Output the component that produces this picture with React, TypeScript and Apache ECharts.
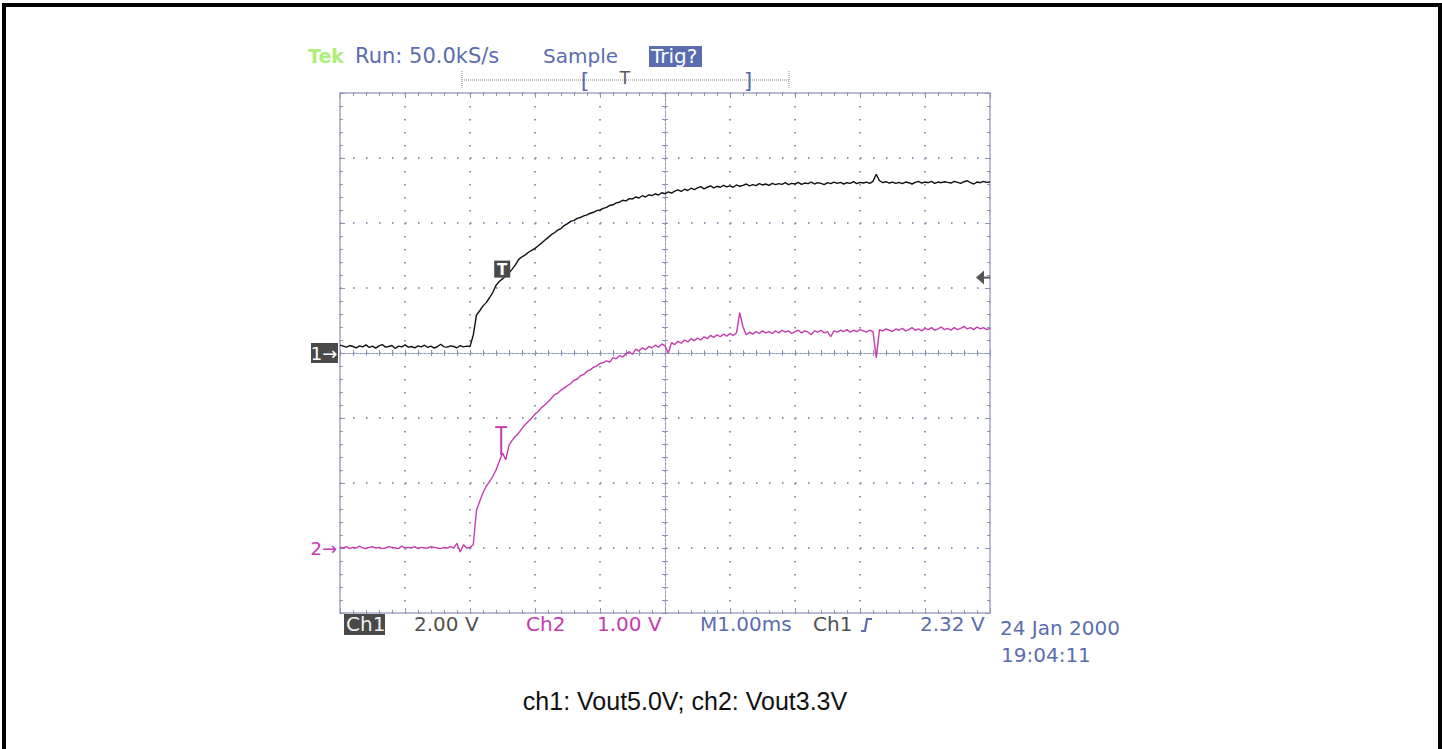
import React, { useEffect, useRef } from "react";
import * as echarts from "echarts";

// Oscilloscope capture: 10 divisions x 1.00 ms, sampled every 0.05 ms
const SAMPLE_MS = 0.05;
const TIME_DIVS = 10;
const V_DIVS = 8;
const CH1_V_PER_DIV = 2.0;
const CH2_V_PER_DIV = 1.0;
const CH2_GROUND_DIV = -3; // ch2 ground marker position (divisions from centre)
const TRIGGER_LEVEL_V = 2.32;
const TRIGGER_T_MS = 2.48;

// Ch1 (Vout 5.0V), volts
const ch1Volts = [
  0.24, 0.21, 0.18, 0.23, 0.2, 0.16, 0.22, 0.19, 0.25, 0.17,
  0.21, 0.15, 0.22, 0.26, 0.18, 0.2, 0.23, 0.14, 0.21, 0.19,
  0.25, 0.18, 0.2, 0.16, 0.22, 0.19, 0.24, 0.17, 0.21, 0.15,
  0.2, 0.27, 0.19, 0.18, 0.22, 0.2, 0.16, 0.23, 0.19, 0.21,
  0.2, 0.55, 1.17, 1.3, 1.45, 1.55, 1.7, 1.86, 2.08, 2.2,
  2.28, 2.38, 2.47, 2.58, 2.72, 2.88, 2.96, 3.02, 3.1, 3.16,
  3.22, 3.3, 3.38, 3.47, 3.55, 3.64, 3.7, 3.78, 3.83, 3.92,
  3.98, 4.05, 4.08, 4.14, 4.17, 4.22, 4.25, 4.3, 4.33, 4.38,
  4.4, 4.45, 4.48, 4.54, 4.56, 4.62, 4.64, 4.7, 4.68, 4.75,
  4.74, 4.8, 4.77, 4.84, 4.8, 4.87, 4.84, 4.9, 4.86, 4.93,
  4.9, 4.96, 4.92, 4.98, 5.02, 4.97, 5.04, 5.0, 5.07, 5.03,
  5.08, 5.12, 5.05, 5.1, 5.14, 5.08, 5.13, 5.1, 5.16, 5.11,
  5.14, 5.1, 5.17, 5.13, 5.16, 5.2, 5.14, 5.18, 5.15, 5.21,
  5.17, 5.2, 5.16, 5.22, 5.18, 5.21, 5.19, 5.24, 5.18, 5.22,
  5.2, 5.25, 5.19, 5.23, 5.21, 5.26, 5.2, 5.24, 5.22, 5.18,
  5.24, 5.21, 5.26, 5.22, 5.25, 5.2, 5.24, 5.22, 5.27, 5.21,
  5.25, 5.23, 5.26, 5.22, 5.28, 5.5, 5.3, 5.24, 5.27, 5.23,
  5.26, 5.22, 5.25, 5.21, 5.26, 5.24, 5.2, 5.25, 5.28, 5.23,
  5.26, 5.24, 5.28, 5.22, 5.26, 5.24, 5.27, 5.25, 5.23, 5.28,
  5.25, 5.22, 5.27, 5.3, 5.24, 5.2, 5.26, 5.24, 5.28, 5.25,
  5.26,
];

// Ch2 (Vout 3.3V), volts
const ch2Volts = [
  0.01, 0.0, 0.02, -0.01, 0.01, 0.0, 0.03, 0.0, -0.01, 0.01,
  0.02, 0.0, 0.01, -0.01, 0.0, 0.02, 0.01, 0.0, -0.01, 0.03,
  0.0, 0.01, 0.0, 0.02, -0.01, 0.01, 0.0, 0.0, 0.02, 0.01,
  0.0, -0.01, 0.01, 0.0, 0.02, 0.0, 0.07, -0.06, 0.05, 0.0,
  0.01, 0.05, 0.58, 0.72, 0.85, 0.95, 1.02, 1.1, 1.2, 1.33,
  1.46, 1.36, 1.58, 1.66, 1.72, 1.77, 1.84, 1.9, 1.95, 2.0,
  2.06, 2.1, 2.16, 2.2, 2.25, 2.3, 2.36, 2.38, 2.43, 2.46,
  2.5, 2.53, 2.58, 2.6, 2.65, 2.67, 2.72, 2.74, 2.78, 2.8,
  2.84, 2.85, 2.88, 2.86, 2.93, 2.91, 2.96, 2.94, 2.99, 3.02,
  2.98, 3.06, 3.03, 3.08, 3.05, 3.1, 3.08, 3.12, 3.09, 3.14,
  3.11, 3.0, 3.16, 3.13, 3.18, 3.15, 3.2, 3.17, 3.22, 3.19,
  3.23, 3.2, 3.25, 3.22, 3.27, 3.24, 3.28, 3.25, 3.29, 3.26,
  3.3, 3.27, 3.31, 3.62, 3.4, 3.28, 3.32, 3.29, 3.33, 3.3,
  3.34, 3.31, 3.33, 3.3, 3.34, 3.31, 3.35, 3.32, 3.34, 3.3,
  3.33, 3.35, 3.31, 3.34, 3.32, 3.28, 3.34, 3.32, 3.35, 3.31,
  3.33, 3.25, 3.34, 3.32, 3.35, 3.33, 3.36, 3.32, 3.35, 3.33,
  3.36, 3.34, 3.32, 3.35, 3.33, 2.93, 3.36, 3.34, 3.37, 3.35,
  3.33, 3.37, 3.35, 3.38, 3.34, 3.36, 3.39, 3.35, 3.37, 3.34,
  3.38, 3.36, 3.39, 3.35, 3.37, 3.4, 3.36, 3.38, 3.35, 3.39,
  3.36, 3.38, 3.41, 3.37, 3.39, 3.36, 3.4, 3.37, 3.39, 3.36,
  3.38,
];

// Scope readout texts
const headerTexts = { tek: "Tek", run: "Run: 50.0kS/s", mode: "Sample", trig: "Trig?" };
const footerTexts = {
  ch1: "Ch1", ch1Scale: "2.00 V", ch2: "Ch2", ch2Scale: "1.00 V",
  time: "M1.00ms", trigSrc: "Ch1", trigLevel: "2.32 V",
  date: "24 Jan 2000", clock: "19:04:11",
};
const caption = "ch1: Vout5.0V; ch2: Vout3.3V";

const BLUE = "#5a6db0";
const GRAY = "#505050";
const PINK = "#c43cae";
const GREEN = "#aef07a";
const BOXGRAY = "#4a4a4a";
const GRID = "#8e96b6";
const FRAME = "#a2a8c0";
const SCOPE_FONT = "DejaVu Sans";

const G = { left: 340, top: 93, width: 650, height: 520 };

function frameAxis(pos: string, extra: any = {}) {
  return {
    type: "value",
    position: pos,
    axisLine: { show: true, onZero: false, lineStyle: { color: FRAME, width: 1.5 } },
    axisTick: { show: true, inside: true, length: 5, lineStyle: { color: GRID, width: 1 } },
    minorTick: { show: true, splitNumber: 5, length: 3, lineStyle: { color: GRID, width: 1 } },
    axisLabel: { show: false },
    splitLine: { show: false },
    ...extra,
  };
}

function centreAxis(pos: string, offset: number, inside: boolean) {
  return {
    type: "value",
    position: pos,
    offset,
    axisLine: { show: true, onZero: false, lineStyle: { color: GRID, width: 1, type: [2, 2] } },
    axisTick: { show: true, inside, length: 3, lineStyle: { color: GRID, width: 1 } },
    minorTick: { show: true, splitNumber: 5, length: 3, lineStyle: { color: GRID, width: 1 } },
    axisLabel: { show: false },
    splitLine: { show: false },
  };
}

const dotted = { show: true, lineStyle: { color: GRID, width: 2, type: [1.5, 11.5] } };

export default function App() {
  const ref = useRef<HTMLDivElement>(null);
  useEffect(() => {
    if (!ref.current) return;
    const chart = echarts.init(ref.current, null, { renderer: "svg" });
    const ch1Data = ch1Volts.map((v, i) => [i * SAMPLE_MS, v]);
    const ch2Data = ch2Volts.map((v, i) => [i * SAMPLE_MS, v]);
    const xRange = { min: 0, max: TIME_DIVS, interval: 1 };
    const yRange = { min: -V_DIVS / 2, max: V_DIVS / 2, interval: 1 };
    const option: any = {
      animation: false,
      backgroundColor: "#ffffff",
      grid: { ...G, containLabel: false },
      xAxis: [
        frameAxis("bottom", { ...xRange, splitLine: dotted }),
        frameAxis("top", { ...xRange }),
        { ...centreAxis("bottom", -G.height / 2, true), ...xRange },
        { ...centreAxis("bottom", -G.height / 2, false), ...xRange },
      ],
      yAxis: [
        frameAxis("left", { ...yRange, splitLine: dotted }),
        frameAxis("right", { ...yRange }),
        { ...centreAxis("left", -G.width / 2, true), ...yRange },
        { ...centreAxis("left", -G.width / 2, false), ...yRange },
        { type: "value", show: false, min: (-V_DIVS / 2) * CH1_V_PER_DIV, max: (V_DIVS / 2) * CH1_V_PER_DIV },
        {
          type: "value", show: false,
          min: (-V_DIVS / 2 - CH2_GROUND_DIV) * CH2_V_PER_DIV,
          max: (V_DIVS / 2 - CH2_GROUND_DIV) * CH2_V_PER_DIV,
        },
      ],
      series: [
        {
          type: "line", name: "Ch1", xAxisIndex: 0, yAxisIndex: 4, data: ch1Data,
          showSymbol: false, symbol: "none", lineStyle: { color: "#111111", width: 1.4 },
          z: 5,
        },
        {
          type: "line", name: "Ch2", xAxisIndex: 0, yAxisIndex: 5, data: ch2Data,
          showSymbol: false, symbol: "none", lineStyle: { color: PINK, width: 1.4 },
          z: 5,
        },
      ],
    };
    chart.setOption(option);

    const p1g = chart.convertToPixel({ seriesIndex: 0 }, [0, 0]) as number[];
    const p2g = chart.convertToPixel({ seriesIndex: 1 }, [0, 0]) as number[];
    const pTrig = chart.convertToPixel({ seriesIndex: 0 }, [TIME_DIVS, TRIGGER_LEVEL_V]) as number[];
    const pT1 = chart.convertToPixel({ seriesIndex: 0 }, [TRIGGER_T_MS, TRIGGER_LEVEL_V]) as number[];
    const pT2 = chart.convertToPixel({ seriesIndex: 1 }, [TRIGGER_T_MS, ch2Volts[50]]) as number[];

    const txt = (x: number, y: number, text: string, fill: string, extra: any = {}) => ({
      type: "text", x, y, z: 20,
      style: {
        text, fill, fontFamily: SCOPE_FONT, fontSize: 20,
        verticalAlign: "middle", align: "left", ...extra,
      },
    });

    const graphic: any[] = [
      // outer border
      { type: "rect", shape: { x: 4, y: 5, width: 1436, height: 900 }, style: { fill: "none", stroke: "#000", lineWidth: 4 }, z: 30 },
      // header
      txt(308, 56, headerTexts.tek, GREEN, { fontWeight: "bold", fontSize: 19 }),
      txt(355, 56, headerTexts.run, BLUE, { fontSize: 21 }),
      txt(543, 56, headerTexts.mode, BLUE),
      { type: "rect", shape: { x: 649, y: 46, width: 53, height: 21 }, style: { fill: BLUE }, z: 19 },
      txt(651, 56, headerTexts.trig, "#ffffff"),
      // record/trigger position bar
      { type: "line", shape: { x1: 462, y1: 80, x2: 789, y2: 80 }, style: { stroke: "#8a8a8a", lineWidth: 1, lineDash: [1, 1] }, z: 15 },
      { type: "line", shape: { x1: 462, y1: 71, x2: 462, y2: 89 }, style: { stroke: "#8a8a8a", lineWidth: 1, lineDash: [1, 1] }, z: 15 },
      { type: "line", shape: { x1: 789, y1: 71, x2: 789, y2: 89 }, style: { stroke: "#8a8a8a", lineWidth: 1, lineDash: [1, 1] }, z: 15 },
      txt(585, 80, "[", BLUE, { align: "center", fontSize: 22 }),
      txt(748, 80, "]", BLUE, { align: "center", fontSize: 22 }),
      txt(625, 78, "T", "#5a5a5a", { align: "center", fontSize: 17 }),
      // footer readouts
      { type: "rect", shape: { x: 344, y: 614, width: 41, height: 21 }, style: { fill: BOXGRAY }, z: 19 },
      txt(346, 624, footerTexts.ch1, "#eeeeee"),
      txt(414, 624, footerTexts.ch1Scale, GRAY),
      txt(526, 624, footerTexts.ch2, PINK),
      txt(597, 624, footerTexts.ch2Scale, PINK),
      txt(700, 624, footerTexts.time, BLUE),
      txt(813, 624, footerTexts.trigSrc, GRAY),
      { type: "polyline", shape: { points: [[861, 631], [865, 631], [867, 619], [872, 619]] }, style: { stroke: BLUE, lineWidth: 2.2, fill: "none" }, z: 20 },
      txt(920, 624, footerTexts.trigLevel, BLUE),
      txt(1000, 628, footerTexts.date, BLUE),
      txt(1001, 655, footerTexts.clock, BLUE),
      // caption
      {
        type: "text", x: 685, y: 701, z: 20,
        style: { text: caption, fill: "#111111", fontFamily: "Liberation Sans", fontSize: 25, align: "center", verticalAlign: "middle" },
      },
      // ground markers
      { type: "rect", shape: { x: p1g[0] - 29, y: p1g[1] - 10, width: 27, height: 20 }, style: { fill: BOXGRAY }, z: 19 },
      txt(p1g[0] - 16, p1g[1], "1\u2192", "#ffffff", { align: "center", fontSize: 18 }),
      txt(p2g[0] - 3, p2g[1], "2\u2192", PINK, { align: "right", fontSize: 18 }),
      // trigger level arrow (right)
      { type: "polygon", shape: { points: [[pTrig[0] - 14, pTrig[1]], [pTrig[0] - 6, pTrig[1] - 7], [pTrig[0] - 6, pTrig[1] + 7]] }, style: { fill: "#555555" }, z: 20 },
      { type: "line", shape: { x1: pTrig[0] - 7, y1: pTrig[1], x2: pTrig[0], y2: pTrig[1] }, style: { stroke: "#555555", lineWidth: 2 }, z: 20 },
      // trigger point marks
      { type: "rect", shape: { x: pT1[0] - 7, y: pT1[1] - 17, width: 16, height: 17 }, style: { fill: BOXGRAY }, z: 19 },
      txt(pT1[0] + 1, pT1[1] - 8, "T", "#ffffff", { align: "center", fontSize: 15, fontWeight: "bold" }),
      { type: "line", shape: { x1: pT2[0] - 6, y1: pT2[1] - 26, x2: pT2[0] + 6, y2: pT2[1] - 26 }, style: { stroke: PINK, lineWidth: 2 }, z: 20 },
      { type: "line", shape: { x1: pT2[0], y1: pT2[1] - 26, x2: pT2[0], y2: pT2[1] + 2 }, style: { stroke: PINK, lineWidth: 2 }, z: 20 },
    ];
    chart.setOption({ graphic });
    return () => chart.dispose();
  }, []);
  return (
    <div
      ref={ref}
      style={{ position: "absolute", left: 0, top: 0, width: 1442, height: 749, background: "#fff" }}
    />
  );
}
